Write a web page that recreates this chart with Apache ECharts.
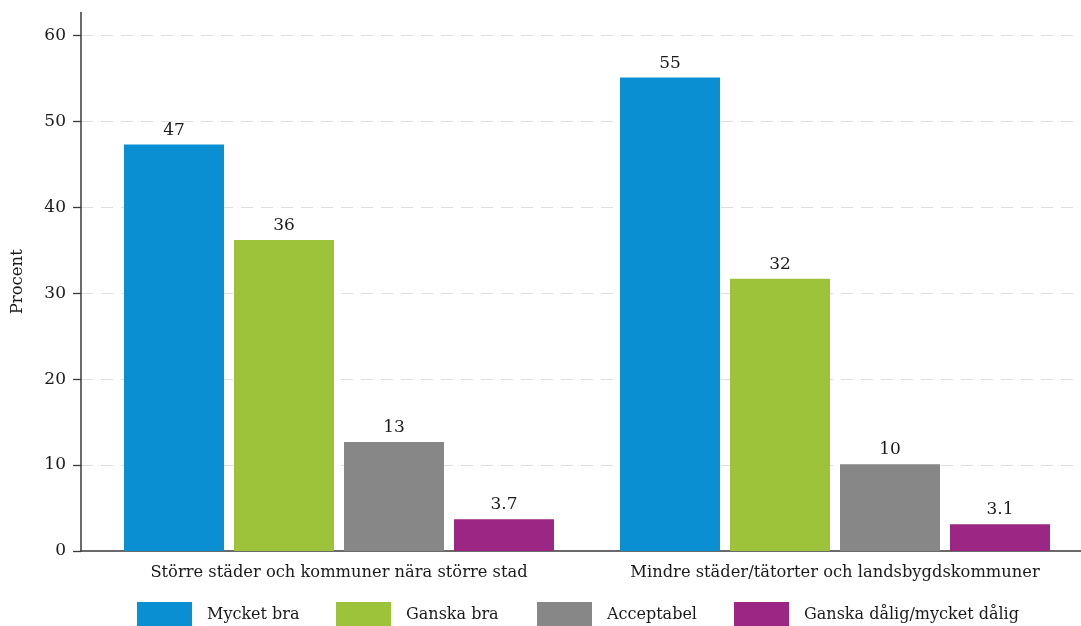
<!DOCTYPE html>
<html>
<head>
<meta charset="utf-8">
<script src="https://cdn.jsdelivr.net/npm/echarts@6/dist/echarts.min.js"></script>
<style>
html,body{margin:0;padding:0;background:#fff;}
#chart{width:1081px;height:626px;}
</style>
</head>
<body>
<div id="chart"></div>
<script>
const categories = ['Större städer och kommuner nära större stad', 'Mindre städer/tätorter och landsbygdskommuner'];
const seriesNames = ['Mycket bra', 'Ganska bra', 'Acceptabel', 'Ganska dålig/mycket dålig'];
const mycketBra = [47.3, 55.1];
const ganskaBra = [36.2, 31.7];
const acceptabel = [12.7, 10.1];
const ganskaDalig = [3.7, 3.1];
const yTicks = [0, 10, 20, 30, 40, 50, 60];
const colors = ['#0a8fd3', '#9dc33b', '#878787', '#9b2683'];

const FONT = 'DejaVu Serif';
const TXT = '#1a1a1a';
const seriesValues = [mycketBra, ganskaBra, acceptabel, ganskaDalig];

function fmt(v) {
  // two significant digits
  return v >= 10 ? String(Math.round(v)) : v.toFixed(1);
}

const chart = echarts.init(document.getElementById('chart'), null, {renderer: 'canvas'});

const legendLefts = [137, 336, 537, 734];

const option = {
  backgroundColor: '#ffffff',
  animation: false,
  textStyle: {fontFamily: FONT},
  grid: [
    {left: 91, top: 35.5, right: -2, bottom: 75, containLabel: false, outerBoundsMode: 'none'},   // data grid
    {left: 81, top: 12.5, right: 0, bottom: 75, containLabel: false, outerBoundsMode: 'none'}     // frame grid
  ],
  legend: seriesNames.map((n, i) => ({
    data: [n],
    left: legendLefts[i],
    top: 602,
    itemWidth: 55,
    itemHeight: 26,
    icon: 'rect',
    selectedMode: false,
    padding: 0,
    textStyle: {fontFamily: FONT, fontSize: 16, color: TXT, padding: [0, 0, 0, 10]}
  })),
  xAxis: [
    {
      gridIndex: 0, type: 'category', data: categories,
      axisLine: {show: false}, axisTick: {show: false},
      axisLabel: {fontFamily: FONT, fontSize: 16.3, color: TXT, margin: 14, interval: 0}
    },
    {
      gridIndex: 1, type: 'category', data: categories,
      axisLine: {show: true, lineStyle: {color: '#3a3a3a', width: 1.5}},
      axisTick: {show: false}, axisLabel: {show: false}, splitLine: {show: false}
    }
  ],
  yAxis: [
    {
      gridIndex: 0, type: 'value', min: 0, max: yTicks[yTicks.length - 1], interval: 10,
      show: false
    },
    {
      gridIndex: 1, type: 'value', min: 0, max: 62.67, interval: 10,
      name: 'Procent', nameLocation: 'middle', nameGap: 55,
      nameTextStyle: {fontFamily: FONT, fontSize: 16.5, color: TXT},
      axisLine: {show: true, lineStyle: {color: '#3a3a3a', width: 1.5}},
      axisTick: {show: true, inside: false, length: 8, customValues: yTicks,
        lineStyle: {color: '#3a3a3a', width: 1.3}},
      axisLabel: {show: true, customValues: yTicks, fontFamily: FONT, fontSize: 17, color: TXT, margin: 15},
      splitLine: {show: true, showMinLine: false,
        lineStyle: {color: '#dfdfdf', type: [12, 8], width: 1.2}}
    }
  ],
  series: seriesNames.map((n, i) => ({
    name: n,
    type: 'bar',
    xAxisIndex: 0,
    yAxisIndex: 0,
    data: seriesValues[i],
    barWidth: 100,
    barGap: '10%',
    itemStyle: {color: colors[i]},
    label: {
      show: true, position: 'top', distance: 6,
      fontFamily: FONT, fontSize: 17, color: TXT,
      formatter: p => fmt(p.value)
    }
  }))
};

chart.setOption(option);
</script>
</body>
</html>
